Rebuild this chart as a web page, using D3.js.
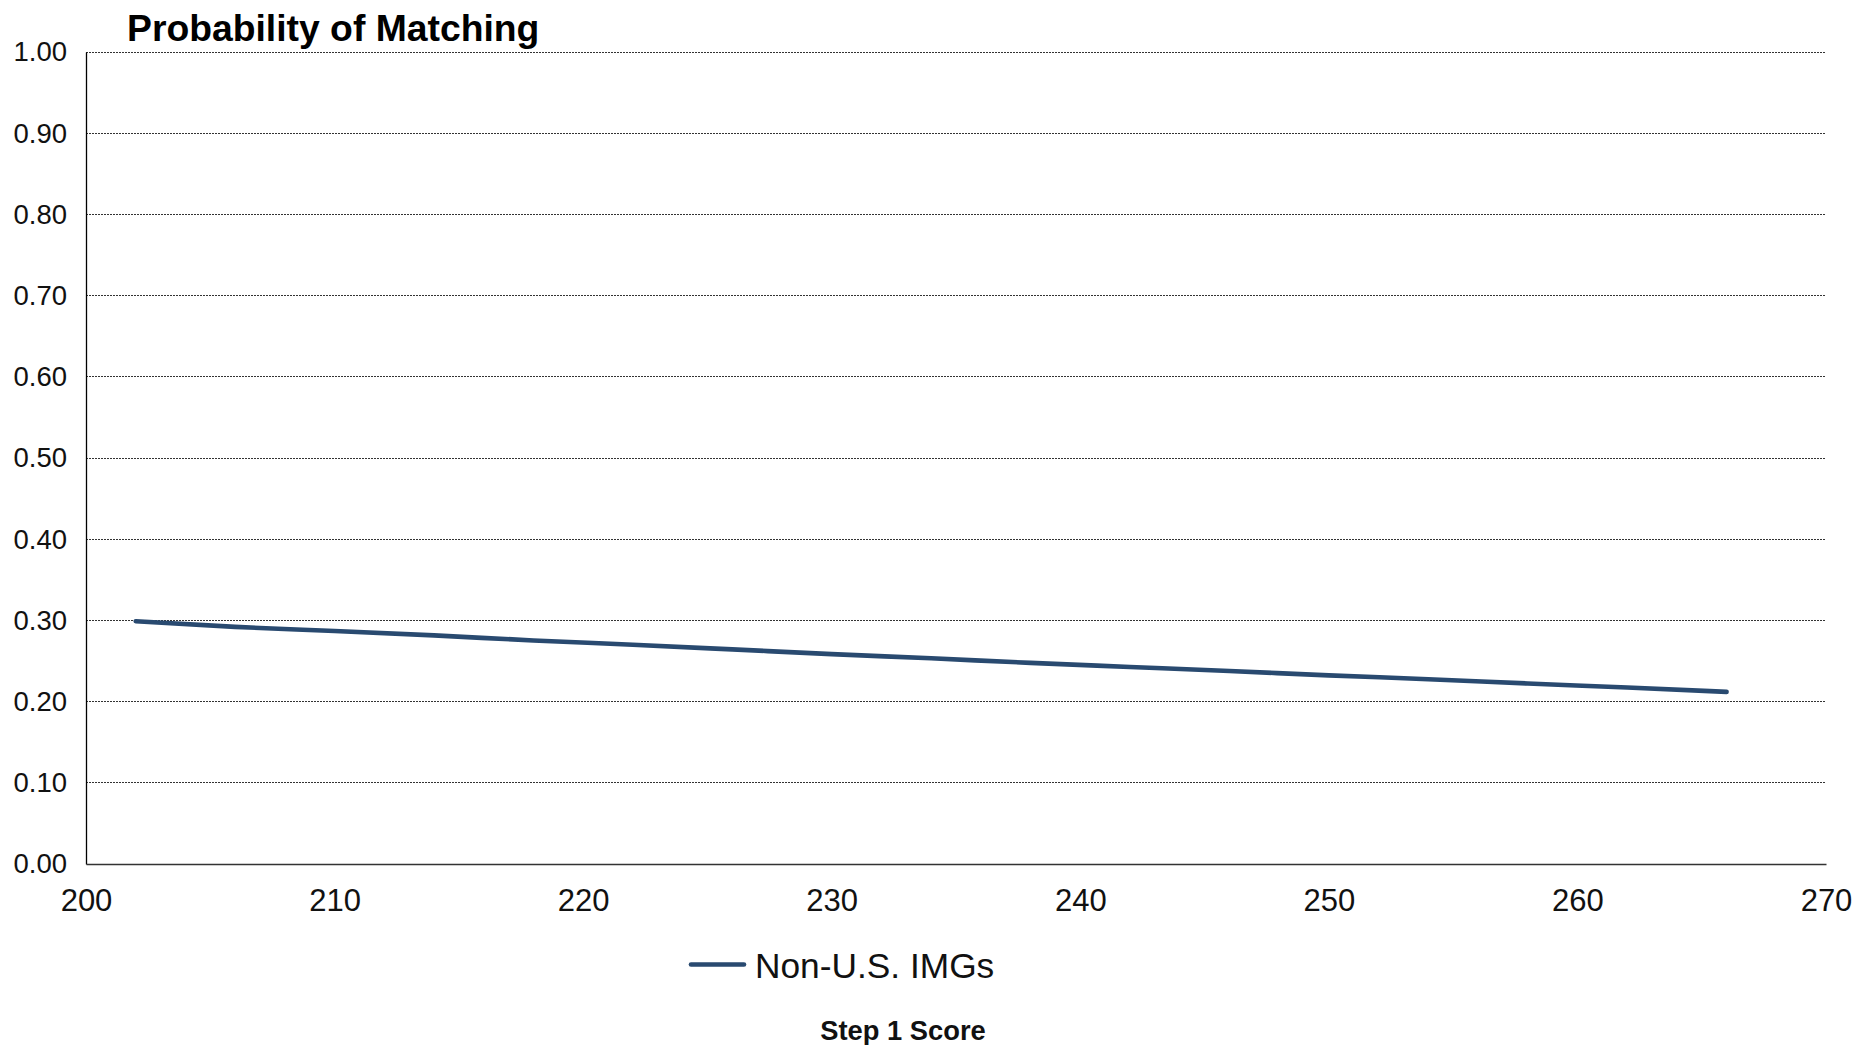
<!DOCTYPE html>
<html><head><meta charset="utf-8">
<script src="https://cdn.jsdelivr.net/npm/d3@7"></script>
<style>body{margin:0;background:#fff;} text{font-family:"Liberation Sans",Arial,sans-serif;}</style>
</head><body>
<svg id="c" width="1856" height="1045"></svg>
<script>
const scores = [202,206,210,214,218,222,226,230,234,238,242,246,250,254,258,262,266];
const probNonUSIMG = [0.299,0.292,0.287,0.2815,0.2753,0.270,0.2643,0.2585,0.2533,0.2477,0.2427,0.2377,0.2323,0.2276,0.2223,0.2174,0.212];
const xTicks = [200,210,220,230,240,250,260,270];
const yTicks = [0,0.1,0.2,0.3,0.4,0.5,0.6,0.7,0.8,0.9,1.0];
const seriesName = "Non-U.S. IMGs";
const titleText = "Probability of Matching";
const xTitle = "Step 1 Score";

const svg = d3.select("#c");
const L = 86, R = 1826, T = 52, B = 864;
const x = d3.scaleLinear().domain([200,270]).range([L,R]);
const y = d3.scaleLinear().domain([0,1]).range([B,T]);

// gridlines
svg.append("g").selectAll("line").data(yTicks.filter(d=>d>0)).join("line")
  .attr("x1",L).attr("x2",R).attr("y1",d=>y(d)).attr("y2",d=>y(d))
  .attr("stroke","#333").attr("stroke-width",1).attr("stroke-dasharray","2,1")
  .attr("shape-rendering","crispEdges");

// axes
const yAxis = d3.axisLeft(y).tickValues(yTicks).tickFormat(d3.format(".2f")).tickSize(0).tickPadding(19);
const gy = svg.append("g").attr("transform",`translate(${L},0)`).call(yAxis);
gy.select(".domain").attr("stroke","#000").attr("stroke-width",1.3);
gy.selectAll("text").attr("font-size",27.5).attr("fill","#111").attr("font-family","Liberation Sans, Arial, sans-serif");

const xAxis = d3.axisBottom(x).tickValues(xTicks).tickFormat(d3.format("d")).tickSize(0).tickPadding(25);
const gx = svg.append("g").attr("transform",`translate(0,${B})`).call(xAxis);
gx.select(".domain").attr("stroke","#333").attr("stroke-width",1.3);
gx.selectAll("text").attr("font-size",31).attr("fill","#111").attr("font-family","Liberation Sans, Arial, sans-serif");

// line
const line = d3.line().x((d,i)=>x(scores[i])).y(d=>y(d)).curve(d3.curveMonotoneX);
svg.append("path").datum(probNonUSIMG).attr("d",line)
  .attr("fill","none").attr("stroke","#294a70").attr("stroke-width",4.6)
  .attr("stroke-linecap","round").attr("stroke-linejoin","round");

// title
svg.append("text").attr("x",127).attr("y",41).attr("font-size",37.3).attr("font-weight","bold")
  .attr("fill","#000").text(titleText);

// legend
svg.append("line").attr("x1",691).attr("x2",744).attr("y1",964.5).attr("y2",964.5)
  .attr("stroke","#294a70").attr("stroke-width",4.6).attr("stroke-linecap","round");
svg.append("text").attr("x",755).attr("y",978).attr("font-size",35.3).attr("fill","#111").text(seriesName);

// x title
svg.append("text").attr("x",903).attr("y",1040).attr("text-anchor","middle").attr("font-size",27.3)
  .attr("font-weight","bold").attr("fill","#111").text(xTitle);
</script>
</body></html>
